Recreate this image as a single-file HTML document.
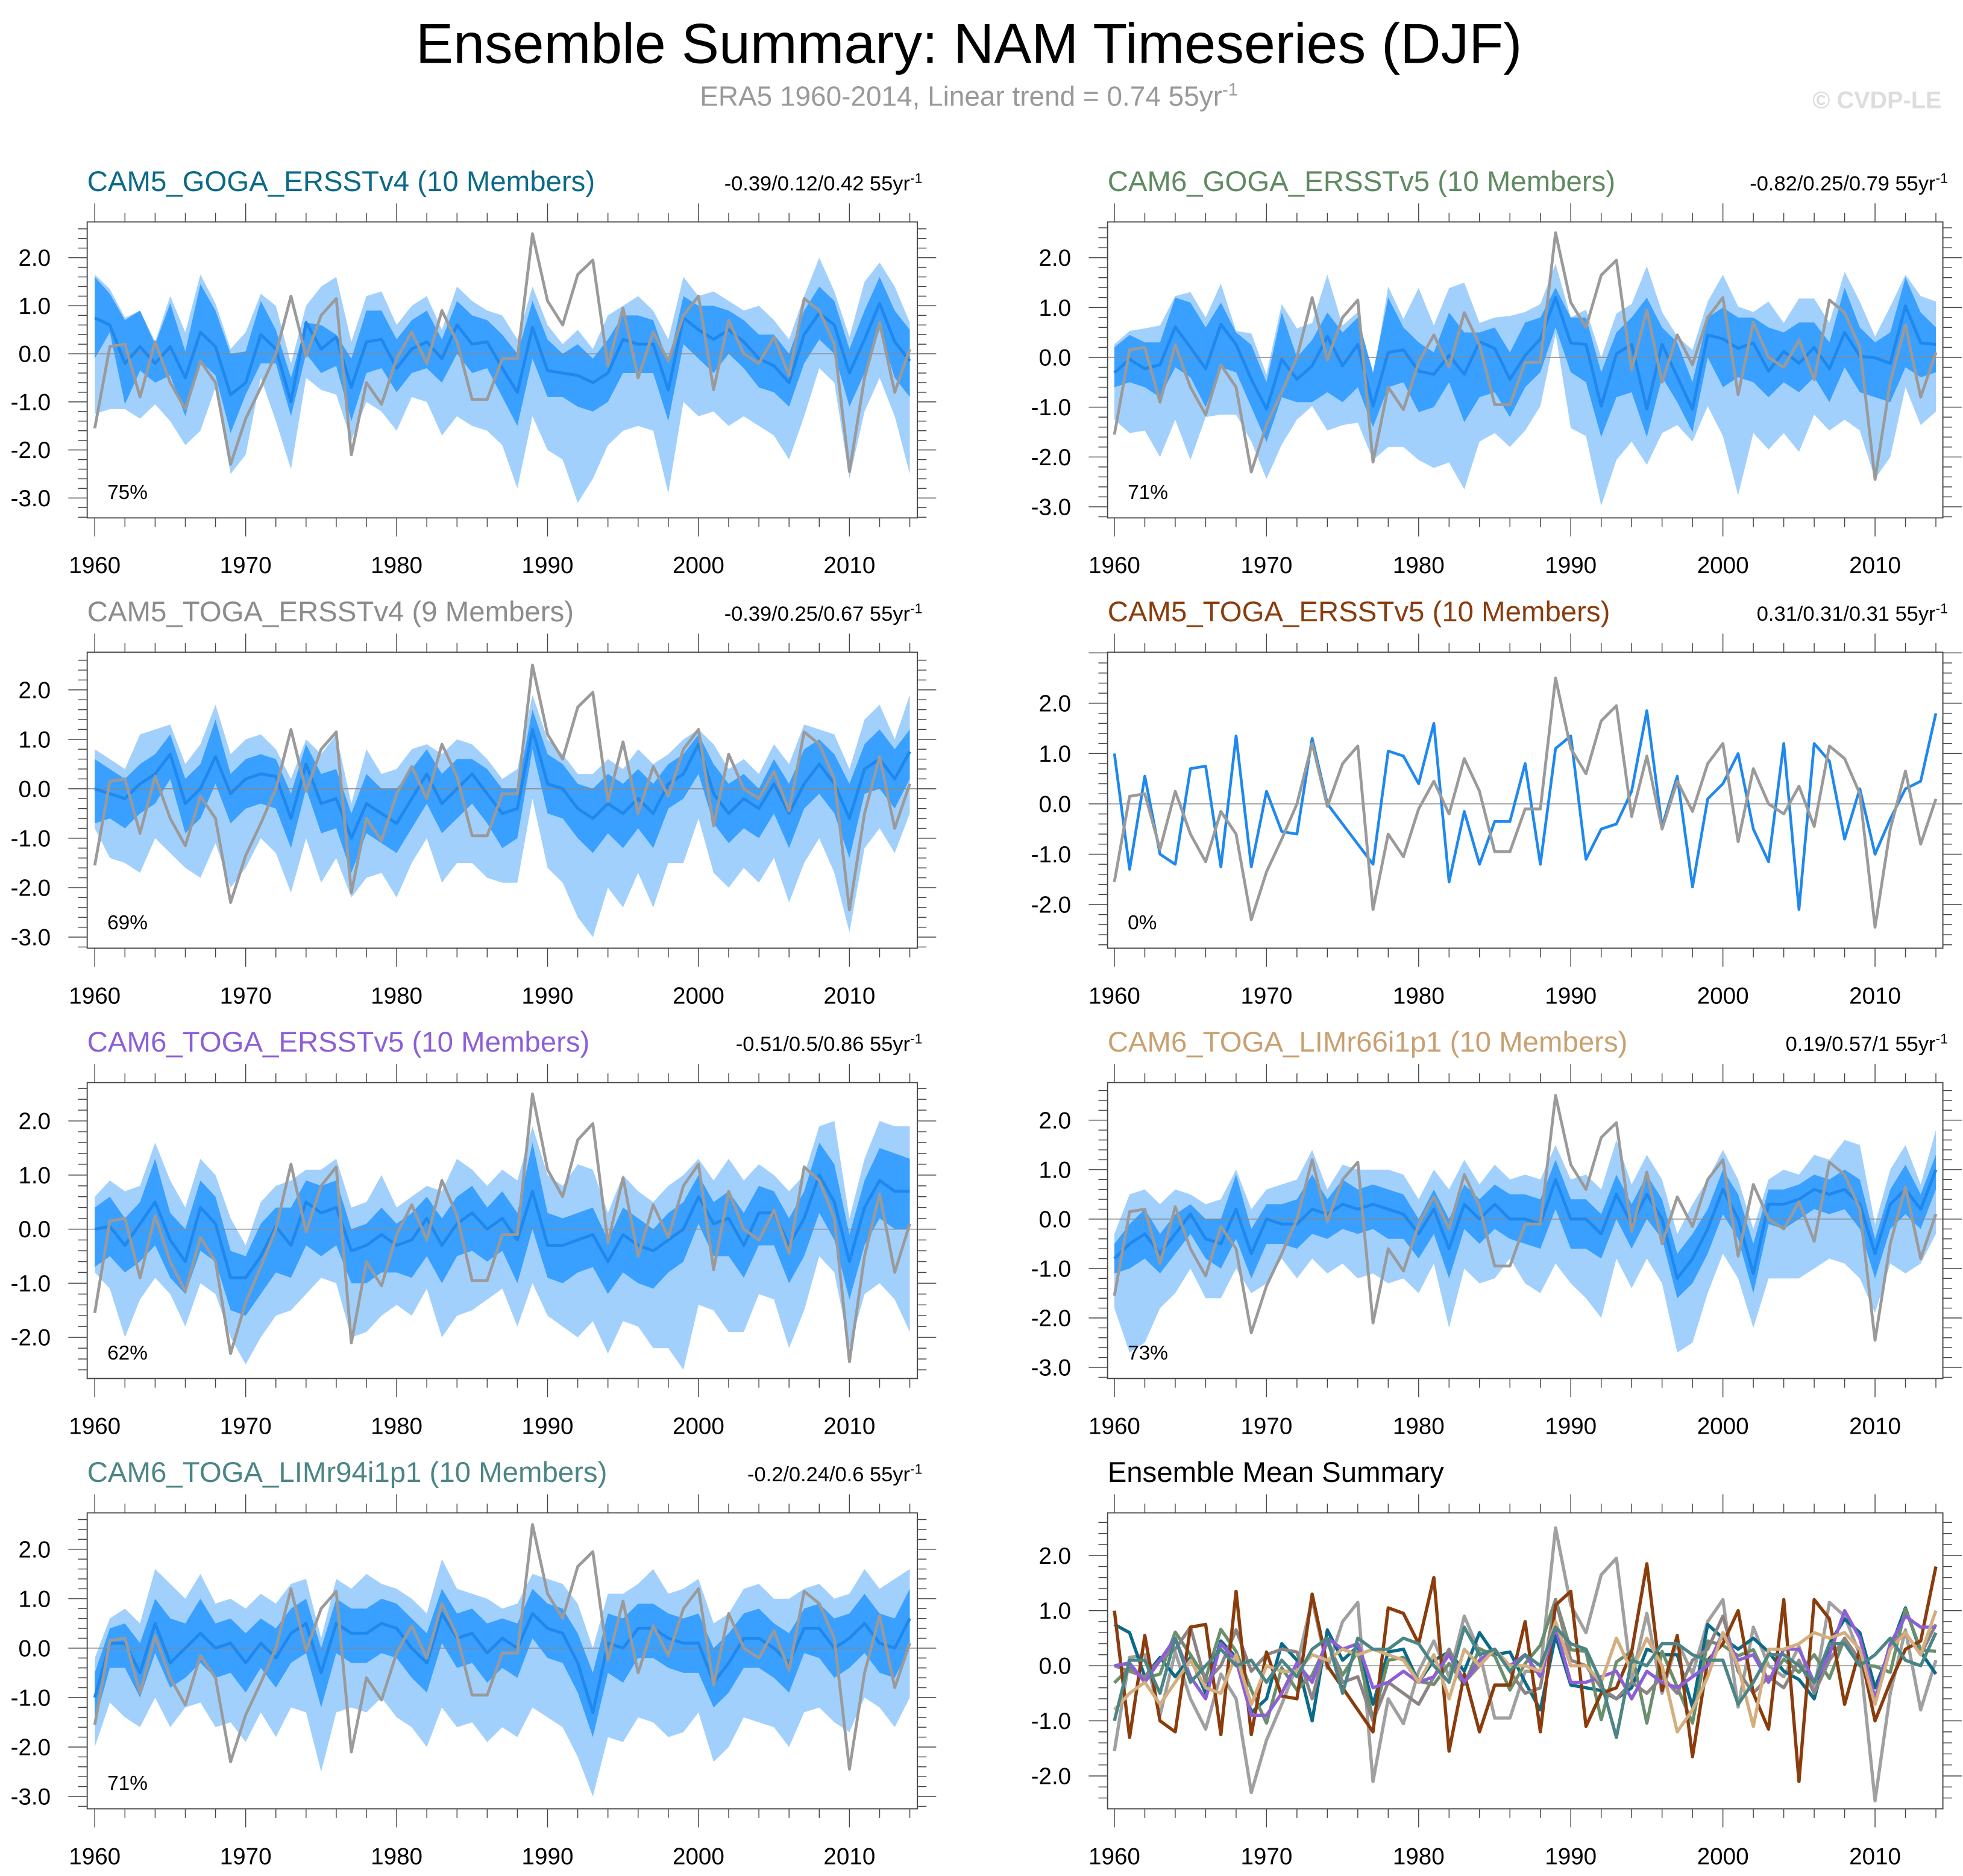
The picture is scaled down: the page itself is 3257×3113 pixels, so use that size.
<!DOCTYPE html>
<html><head><meta charset="utf-8"><style>
html,body{margin:0;padding:0;background:#fff}
svg{display:block}
text{font-family:"Liberation Sans",sans-serif}
</style></head><body>
<svg id="chart" xmlns="http://www.w3.org/2000/svg" width="3257" height="3113" viewBox="0 0 1560 1491">
<text x="770" y="50" text-anchor="middle" font-size="44.7" fill="#000">Ensemble Summary: NAM Timeseries (DJF)</text>
<text x="770" y="84" text-anchor="middle" font-size="22" fill="#999">ERA5 1960-2014, Linear trend = 0.74 55yr<tspan dy="-8" font-size="14">-1</tspan></text>
<text x="1543" y="86" text-anchor="end" font-size="19" font-weight="bold" fill="#ddd">© CVDP-LE</text>
</svg>
<script>
const startYear = 1960;
const era5 = [-1.55,0.15,0.2,-0.9,0.25,-0.6,-1.15,-0.15,-0.6,-2.3,
-1.35,-0.7,0.0,1.2,-0.05,0.8,1.15,-2.1,-0.6,-1.05,
-0.1,0.45,-0.2,0.9,0.25,-0.95,-0.95,-0.1,-0.1,2.5,
1.1,0.6,1.65,1.95,-0.25,0.95,-0.5,0.45,-0.15,0.8,
1.2,-0.75,0.7,0.0,-0.2,0.35,-0.45,1.15,0.9,0.2,
-2.45,-0.5,0.65,-0.8,0.1];

const p1Mean=[0.75,0.6,-0.2,0.15,-0.2,0.15,-0.5,0.45,0.15,-0.85,-0.6,0.4,0.1,-1.0,0.65,0.1,0.35,-0.7,0.25,0.3,-0.3,0.1,0.25,-0.1,0.6,0.2,0.25,-0.3,-0.8,0.55,-0.35,-0.4,-0.45,-0.6,-0.4,0.3,0.2,0.2,-0.75,0.75,0.5,0.3,0.5,0.25,-0.1,-0.25,-0.6,0.4,0.85,0.6,-0.4,0.3,1.05,0.25,-0.15];
const p1Max=[1.65,1.35,0.75,0.9,0.25,1.2,0.45,1.65,1.05,0.1,0.45,1.25,1.0,-0.2,1.0,1.4,1.6,0.25,1.2,1.3,0.6,1.0,1.2,0.5,1.4,1.1,0.9,0.8,0.3,1.4,0.6,0.2,0.5,0.1,0.8,1.0,1.2,0.9,0.3,1.6,1.2,1.3,1.1,0.9,1.0,0.7,0.3,1.2,2.0,1.3,0.35,1.5,1.9,1.4,0.65];
const p1Min=[-1.25,-1.15,-1.15,-1.35,-1.05,-1.4,-1.9,-1.6,-0.7,-2.5,-2.1,-0.5,-1.4,-2.4,-0.5,-0.75,-0.85,-1.8,-1.0,-1.2,-1.6,-0.9,-1.0,-1.7,-1.3,-1.5,-1.6,-1.9,-2.8,-1.3,-2.0,-2.2,-3.1,-2.6,-1.9,-1.6,-1.5,-1.6,-2.9,-1.0,-1.3,-1.2,-1.5,-1.3,-1.5,-1.7,-2.2,-1.3,-0.3,-0.6,-2.6,-1.2,-0.5,-1.3,-2.5];
const p1Q3=[1.6,1.25,0.7,0.9,0.2,1.05,0.05,1.45,0.9,0.0,0.05,1.1,0.5,-0.5,0.65,0.6,0.4,-0.1,0.9,0.9,0.3,0.7,0.9,0.3,1.1,0.8,0.7,0.4,0.0,1.1,0.3,0.0,0.2,-0.1,0.3,0.8,0.8,0.7,-0.2,1.2,1.0,1.0,0.9,0.7,0.4,0.4,0.0,0.9,1.4,1.1,0.1,0.9,1.6,0.9,0.5];
const p1Q1=[-0.1,0.45,-1.05,-0.35,-0.6,-0.45,-1.3,-0.15,-0.45,-1.65,-0.85,-0.2,-0.2,-1.3,0.0,-0.4,-0.25,-1.4,-0.4,-0.3,-0.8,-0.4,-0.3,-0.6,0.0,-0.4,-0.3,-0.9,-1.5,-0.1,-0.9,-0.9,-1.1,-1.2,-1.0,-0.4,-0.4,-0.4,-1.4,0.2,-0.1,-0.4,0.0,-0.3,-0.7,-0.8,-1.1,-0.2,0.3,0.0,-1.1,-0.4,0.5,-0.5,-0.9];

const p2Mean=[-0.31,-0.04,-0.23,-0.15,0.61,0.2,-0.23,0.66,0.26,-0.44,-1.04,-0.04,-0.44,-0.17,0.42,-0.17,0.26,-0.98,0.1,0.15,-0.28,-0.34,0.04,-0.34,0.31,0.18,-0.44,0.04,0.37,1.2,0.29,0.26,-0.98,0.07,0.26,-1.04,0.26,-0.39,-1.04,0.45,0.37,0.18,0.29,-0.28,0.12,-0.12,0.2,-0.23,0.5,0.02,-0.01,-0.12,1.03,0.29,0.26];
const p2Max=[0.26,0.53,0.58,0.64,1.23,1.31,0.8,1.48,0.53,0.48,-0.34,1.07,0.58,0.69,1.66,0.64,0.91,-0.44,1.42,0.77,1.39,0.64,1.39,1.5,0.69,0.8,0.83,0.91,1.07,1.88,0.8,0.96,0.0,0.88,1.07,1.83,0.91,0.42,0.15,1.12,1.66,1.02,0.91,1.12,0.69,1.18,1.18,0.69,1.72,1.12,0.42,1.02,1.66,1.23,1.12];
const p2Min=[-1.25,-1.52,-1.47,-2.0,-1.25,-2.06,-1.2,-1.15,-1.15,-1.69,-2.44,-1.75,-1.25,-0.98,-1.47,-1.36,-1.31,-2.06,-1.8,-1.8,-2.06,-2.22,-2.11,-2.65,-1.69,-1.52,-1.8,-1.47,-0.98,0.48,-1.42,-1.58,-2.98,-2.06,-1.69,-2.16,-1.52,-1.36,-1.69,-0.98,-1.58,-2.77,-1.52,-1.85,-1.52,-1.9,-1.15,-1.47,-1.25,-1.47,-2.44,-2.0,-0.6,-1.36,-1.09];
const p2Q3=[0.2,0.45,0.3,0.3,1.2,1.1,0.6,1.1,0.5,0.25,-0.5,0.9,0.0,0.35,0.9,0.5,0.8,-0.3,1.2,0.6,0.3,0.1,0.9,0.5,0.5,0.6,0.1,0.7,0.8,1.4,0.8,0.8,-0.3,0.5,0.8,1.2,0.6,0.3,-0.5,0.8,1.0,0.8,0.8,0.6,0.5,0.7,0.7,0.3,1.4,0.6,0.3,0.5,1.6,0.9,0.6];
const p2Q1=[-0.6,-0.5,-0.6,-0.8,-0.2,-0.4,-1.0,-0.2,-0.3,-1.0,-1.7,-0.8,-0.9,-0.9,-0.7,-0.9,-0.6,-1.4,-0.6,-0.5,-1.1,-1.0,-0.5,-1.3,-0.8,-0.7,-1.2,-0.6,-0.3,0.6,-0.3,-0.5,-1.6,-0.8,-0.7,-1.6,-0.4,-0.9,-1.5,0.0,-0.6,-0.4,-0.5,-0.8,-0.5,-0.7,-0.4,-0.9,-0.2,-0.7,-0.8,-0.9,-0.2,-0.4,-0.3];

const p3Mean=[0.0,-0.1,-0.2,0.1,0.3,0.7,-0.3,0.0,0.65,-0.1,0.2,0.3,0.25,-0.6,0.5,-0.3,-0.2,-1.0,-0.3,-0.5,-0.7,-0.2,0.3,-0.3,0.0,0.3,-0.1,-0.5,-0.4,1.2,0.1,0.0,-0.4,-0.6,-0.3,-0.5,-0.2,-0.5,0.1,0.3,0.9,-0.1,-0.5,-0.2,-0.4,0.1,-0.5,0.1,0.5,0.1,-0.6,0.4,0.6,0.2,0.75];
const p3Max=[0.8,0.6,0.4,1.1,1.2,1.3,0.5,0.9,1.7,0.7,1.0,1.1,0.8,0.2,1.0,0.7,1.1,-0.3,0.8,0.3,0.4,0.8,0.9,0.7,1.0,0.9,0.6,0.2,0.4,1.9,1.0,0.7,0.3,0.3,0.6,0.4,0.8,0.5,0.7,1.0,1.2,0.9,0.4,0.6,0.3,0.9,0.5,1.3,1.2,1.1,0.4,1.4,1.7,1.0,1.9];
const p3Min=[-0.8,-1.4,-1.5,-1.7,-1.0,-1.3,-1.6,-1.8,-1.1,-2.0,-1.6,-1.0,-1.3,-2.1,-1.0,-1.9,-1.4,-2.2,-1.8,-1.7,-2.2,-1.5,-1.0,-1.9,-1.5,-1.5,-1.8,-1.9,-1.9,-0.2,-1.6,-1.9,-2.6,-3.0,-2.0,-2.4,-1.7,-2.4,-1.5,-1.5,-0.6,-1.7,-2.0,-1.6,-1.9,-1.4,-2.3,-1.5,-1.0,-1.7,-2.9,-1.2,-0.8,-1.3,-0.5];
const p3Q3=[0.6,0.4,0.2,0.5,0.7,1.1,0.2,0.5,1.4,0.3,0.6,0.7,0.6,-0.1,0.9,0.3,0.4,-0.5,0.3,0.0,0.0,0.4,0.8,0.3,0.6,0.6,0.4,0.0,0.0,1.6,0.7,0.5,0.1,0.0,0.3,0.1,0.4,0.1,0.5,0.7,1.1,0.5,0.1,0.3,0.0,0.6,0.1,0.8,1.0,0.7,0.1,0.9,1.2,0.8,1.2];
const p3Q1=[-0.7,-0.6,-0.8,-0.5,-0.3,0.2,-0.9,-0.6,0.1,-0.7,-0.4,-0.3,-0.4,-1.2,0.0,-0.9,-0.8,-1.7,-0.9,-1.1,-1.3,-0.8,-0.3,-0.9,-0.6,-0.3,-0.7,-1.2,-1.0,0.8,-0.5,-0.6,-1.0,-1.3,-0.9,-1.2,-0.8,-1.2,-0.4,-0.2,0.3,-0.7,-1.1,-0.8,-1.0,-0.5,-1.2,-0.4,-0.1,-0.5,-1.4,-0.1,0.0,-0.4,0.2];

const p4Member=[1.0,-1.3,0.55,-1.0,-1.2,0.7,0.75,-1.25,1.35,-1.25,0.25,-0.55,-0.6,1.3,0.0,-0.4,-0.8,-1.2,1.05,0.95,0.4,1.6,-1.55,-0.15,-1.2,-0.35,-0.35,0.8,-1.2,1.1,1.35,-1.1,-0.5,-0.4,0.25,1.85,-0.45,0.55,-1.65,0.1,0.4,1.0,-0.5,-1.15,1.2,-2.1,1.2,0.85,-0.7,0.3,-1.0,-0.3,0.3,0.45,1.8];

const p5Mean=[0.0,0.05,-0.3,0.1,0.5,-0.2,-0.6,0.4,0.1,-0.9,-0.9,-0.5,0.05,-0.3,0.5,0.3,0.4,-0.4,-0.3,-0.1,-0.3,-0.2,0.2,-0.3,0.1,0.3,0.0,0.2,-0.2,0.7,-0.3,-0.3,-0.2,-0.1,-0.6,-0.1,-0.3,-0.4,-0.2,0.0,0.6,0.1,0.2,-0.3,0.3,0.3,-0.3,0.2,1.0,0.5,-0.6,0.4,0.9,0.7,0.7];
const p5Max=[0.6,0.9,0.7,0.8,1.6,0.9,0.4,1.3,1.0,0.2,-0.3,0.5,0.8,0.9,1.1,1.1,1.3,0.4,0.5,1.0,0.4,0.6,0.8,0.7,1.3,1.1,0.8,1.1,0.9,1.9,1.0,0.8,1.2,1.1,0.3,1.0,0.7,0.5,0.8,1.0,1.3,0.9,1.3,0.9,1.2,1.0,0.7,1.0,1.9,2.0,0.2,1.3,2.0,1.9,1.9];
const p5Min=[-0.8,-1.1,-2.0,-1.3,-0.9,-1.2,-1.8,-1.0,-1.2,-2.0,-2.5,-2.0,-1.6,-1.5,-1.2,-0.9,-1.0,-2.0,-1.9,-1.6,-1.4,-1.6,-1.1,-2.0,-1.6,-1.5,-1.3,-1.1,-1.8,-1.0,-1.6,-1.8,-2.0,-1.7,-2.3,-1.7,-1.8,-2.2,-2.2,-2.6,-1.4,-1.5,-1.9,-1.9,-1.2,-1.3,-2.2,-1.5,-0.5,-0.8,-2.2,-1.2,-1.0,-1.3,-1.9];
const p5Q3=[0.4,0.6,0.2,0.5,1.3,0.3,0.0,0.9,0.6,-0.4,-0.5,0.1,0.4,0.4,0.9,0.8,0.9,0.0,0.1,0.4,0.1,0.3,0.6,0.2,0.6,0.8,0.4,0.7,0.3,1.6,0.3,0.2,0.3,0.4,-0.2,0.4,0.2,0.0,0.3,0.5,1.0,0.5,0.7,0.3,0.8,0.7,0.2,0.7,1.6,1.2,-0.1,0.9,1.5,1.4,1.3];
const p5Q1=[-0.7,-0.5,-0.8,-0.6,-0.3,-0.9,-1.2,-0.4,-0.6,-1.5,-1.6,-1.2,-0.8,-0.9,-0.3,-0.5,-0.3,-1.0,-1.0,-0.8,-0.8,-0.9,-0.5,-1.0,-0.5,-0.4,-0.6,-0.4,-1.0,0.0,-0.9,-1.0,-0.8,-0.7,-1.2,-0.8,-1.0,-1.1,-0.8,-0.6,0.1,-0.5,-0.5,-0.9,-0.3,-0.3,-1.0,-0.5,0.3,-0.2,-1.3,-0.3,0.2,0.0,0.0];

const p6Mean=[-0.8,-0.5,-0.3,-0.7,-0.3,0.1,-0.4,-0.5,0.2,-0.7,0.0,-0.1,-0.1,0.2,0.1,0.3,0.2,0.3,0.2,0.1,-0.3,0.2,-0.6,0.3,0.0,0.3,0.0,0.0,-0.1,0.8,0.0,0.0,-0.3,0.5,-0.1,0.5,0.0,-1.2,-0.8,-0.2,0.6,0.0,-1.1,0.3,0.3,0.4,0.6,0.5,0.6,0.3,-0.7,0.3,0.6,0.2,1.0];
const p6Max=[-0.3,0.5,0.6,0.3,0.6,0.5,0.3,0.4,1.0,0.2,0.6,0.7,0.8,1.4,0.6,1.1,1.0,1.0,1.0,0.9,0.4,1.0,0.6,1.2,0.7,1.1,0.8,0.9,0.8,1.5,0.8,0.9,0.6,1.6,0.7,1.3,0.8,-0.3,0.3,0.8,1.4,0.8,-0.2,0.8,1.0,0.9,1.3,1.2,1.6,1.5,-0.1,1.0,1.5,0.7,1.8];
const p6Min=[-1.8,-2.7,-2.5,-1.8,-1.5,-1.0,-1.6,-1.6,-1.0,-1.5,-1.3,-0.8,-1.2,-0.8,-1.1,-0.9,-1.2,-1.1,-1.3,-1.2,-1.5,-0.9,-2.2,-1.0,-1.3,-1.2,-0.8,-1.3,-1.5,-0.9,-1.3,-1.6,-2.0,-0.8,-1.4,-0.8,-1.3,-2.7,-2.5,-1.5,-0.7,-1.2,-2.2,-1.2,-1.2,-1.2,-1.0,-0.8,-0.9,-1.2,-1.9,-0.9,-1.1,-0.9,-0.3];
const p6Q3=[-0.5,-0.1,0.2,-0.3,0.1,0.3,0.0,0.0,0.9,-0.2,0.3,0.3,0.4,0.9,0.4,0.8,0.6,0.7,0.6,0.5,0.0,0.6,0.0,0.7,0.4,0.7,0.5,0.5,0.4,1.2,0.4,0.4,0.1,0.9,0.3,0.9,0.4,-0.7,-0.3,0.2,1.0,0.5,-0.5,0.6,0.6,0.7,0.9,0.8,1.0,0.8,-0.4,0.6,1.1,0.5,1.3];
const p6Q1=[-1.1,-1.0,-0.8,-1.1,-0.7,-0.3,-0.8,-1.0,-0.4,-1.2,-0.5,-0.5,-0.6,-0.3,-0.4,-0.2,-0.3,-0.2,-0.4,-0.4,-0.8,-0.3,-1.2,-0.2,-0.5,-0.2,-0.4,-0.5,-0.6,0.2,-0.6,-0.6,-0.8,0.0,-0.6,0.0,-0.4,-1.6,-1.3,-0.7,0.1,-0.4,-1.5,-0.1,-0.2,0.0,0.2,0.1,0.2,-0.2,-1.2,-0.2,0.1,-0.2,0.6];

const p7Mean=[-1.0,0.1,0.1,-0.5,0.5,-0.3,0.0,0.3,0.0,0.1,-0.3,0.1,-0.2,0.3,0.5,-0.5,0.5,0.3,0.3,0.5,0.4,0.0,-0.3,0.7,0.2,0.3,-0.1,0.2,0.0,0.7,0.4,0.3,-0.3,-1.3,0.1,0.0,0.4,0.4,0.2,0.1,0.1,-0.7,-0.3,0.2,0.2,0.0,-0.3,0.4,0.4,0.0,0.2,0.5,0.1,0.0,0.6];
const p7Max=[-0.2,0.6,0.8,0.5,1.6,1.3,1.0,1.5,0.9,1.0,0.8,1.1,0.9,1.3,1.4,0.2,1.4,1.2,1.5,1.3,1.2,1.0,0.7,1.8,1.2,1.1,1.0,0.8,0.9,1.5,1.4,1.3,0.9,0.0,1.1,1.1,1.3,1.6,1.1,1.2,1.4,0.5,0.7,1.2,1.3,1.0,1.0,1.2,1.3,1.0,1.1,1.6,1.2,1.4,1.6];
const p7Min=[-2.0,-1.1,-1.4,-1.6,-1.0,-1.6,-1.2,-1.1,-1.6,-1.5,-1.9,-1.3,-1.8,-1.2,-1.3,-2.5,-1.3,-1.2,-1.3,-1.0,-1.4,-1.6,-2.0,-1.2,-1.6,-1.5,-1.9,-1.6,-1.8,-1.2,-1.4,-1.6,-2.2,-3.0,-1.8,-1.9,-1.4,-1.5,-1.8,-1.7,-1.3,-2.3,-2.0,-1.4,-1.5,-1.6,-2.0,-1.3,-1.2,-1.5,-1.7,-1.0,-1.2,-1.6,-1.0];
const p7Q3=[-0.5,0.4,0.5,0.1,1.0,0.6,0.5,1.0,0.5,0.6,0.3,0.6,0.4,0.8,1.0,0.0,1.0,0.8,0.8,1.0,0.9,0.6,0.3,1.2,0.7,0.8,0.5,0.6,0.5,1.2,0.9,0.8,0.3,-0.5,0.7,0.6,0.9,0.9,0.7,0.6,0.7,0.0,0.3,0.7,0.8,0.5,0.3,0.8,0.9,0.6,0.7,1.1,0.7,0.6,1.2];
const p7Q1=[-1.5,-0.4,-0.4,-1.0,-0.1,-0.8,-0.6,-0.3,-0.6,-0.5,-0.9,-0.4,-0.8,-0.3,-0.1,-1.2,-0.1,-0.3,-0.3,-0.1,-0.2,-0.6,-0.9,0.1,-0.4,-0.3,-0.7,-0.4,-0.6,0.2,-0.2,-0.3,-0.9,-1.8,-0.5,-0.7,-0.2,-0.2,-0.4,-0.5,-0.5,-1.2,-0.9,-0.4,-0.4,-0.6,-0.9,-0.1,-0.2,-0.6,-0.4,-0.1,-0.5,-0.6,0.0];

const xTickLabels=["1960","1970","1980","1990","2000","2010"];
const panelTitles=["CAM5_GOGA_ERSSTv4 (10 Members)","CAM6_GOGA_ERSSTv5 (10 Members)","CAM5_TOGA_ERSSTv4 (9 Members)","CAM5_TOGA_ERSSTv5 (10 Members)","CAM6_TOGA_ERSSTv5 (10 Members)","CAM6_TOGA_LIMr66i1p1 (10 Members)","CAM6_TOGA_LIMr94i1p1 (10 Members)","Ensemble Mean Summary"];
const trendStats=["-0.39/0.12/0.42","-0.82/0.25/0.79","-0.39/0.25/0.67","0.31/0.31/0.31","-0.51/0.5/0.86","0.19/0.57/1","-0.2/0.24/0.6",""];
const pctLabels=["75%","71%","69%","0%","62%","73%","71%",""];

const NS="http://www.w3.org/2000/svg";
const svg=document.getElementById('chart');
function mk(tag,attrs,parent){const e=document.createElementNS(NS,tag);for(const k in attrs)e.setAttribute(k,attrs[k]);(parent||svg).appendChild(e);return e;}

const colors=["#0b6a88","#5f8a62","#8c8c8c","#8a3c0c","#8c5fd8","#c9a071","#4b8585","#000"];
const summaryColors=["#0b6a88","#6a8f6c","#8c8484","#8a3c0c","#8c5fd8","#d4ae7e","#4b8585"];
const rowTops=[176.4,518.4,860.4,1202.4];
const H=235.2;
const L={x0:69.3,x1:729,yr0:75.3,step:11.995};
const R={x0:880.2,x1:1544,yr0:885.6,step:12.09};
const panels=[
 {col:L,row:0,zo:104.8,unit:38.2,ticks:[2,1,0,-1,-2,-3],mean:p1Mean,mx:p1Max,mn:p1Min,q3:p1Q3,q1:p1Q1},
 {col:R,row:0,zo:107.6,unit:39.6,ticks:[2,1,0,-1,-2,-3],mean:p2Mean,mx:p2Max,mn:p2Min,q3:p2Q3,q1:p2Q1},
 {col:L,row:1,zo:108.5,unit:39.3,ticks:[2,1,0,-1,-2,-3],mean:p3Mean,mx:p3Max,mn:p3Min,q3:p3Q3,q1:p3Q1},
 {col:R,row:1,zo:120.5,unit:40,ticks:[2,1,0,-1,-2],mean:p4Member},
 {col:L,row:2,zo:116.5,unit:43,ticks:[2,1,0,-1,-2],mean:p5Mean,mx:p5Max,mn:p5Min,q3:p5Q3,q1:p5Q1},
 {col:R,row:2,zo:108.5,unit:39.3,ticks:[2,1,0,-1,-2,-3],mean:p6Mean,mx:p6Max,mn:p6Min,q3:p6Q3,q1:p6Q1},
 {col:L,row:3,zo:107.5,unit:39.3,ticks:[2,1,0,-1,-2,-3],mean:p7Mean,mx:p7Max,mn:p7Min,q3:p7Q3,q1:p7Q1},
 {col:R,row:3,zo:121.5,unit:43.8,ticks:[2,1,0,-1,-2],summary:true}
];
const summarySeries=[p1Mean,p2Mean,p3Mean,p4Member,p5Mean,p6Mean,p7Mean];

panels.forEach((p,i)=>{
 const c=p.col, top=rowTops[p.row], bot=top+H;
 const g=mk('g',{});
 
 
 const xs=k=>c.yr0+k*c.step;
 const ys=v=>top+p.zo-v*p.unit;
 const t=mk('text',{x:c.x0,y:top-24.6,'font-size':22.7,fill:colors[i]},g);
 t.textContent=panelTitles[i];
 
 
 if(trendStats[i]){
  const s=mk('text',{x:c.x1+4,y:top-25,'text-anchor':'end','font-size':16.5,fill:'#000'},g);
  s.innerHTML=trendStats[i]+' 55yr<tspan dy="-6" font-size="11">-1</tspan>';
  
  
 }
 const n=era5.length;
 function poly(hi,lo,fill,name){
  let pts=[];for(let k=0;k<n;k++)pts.push(xs(k)+','+ys(hi[k]));
  for(let k=n-1;k>=0;k--)pts.push(xs(k)+','+ys(lo[k]));
  const e=mk('polygon',{points:pts.join(' '),fill:fill},g);
  
  
 }
 function line(arr,stroke,w,name){
  const pts=arr.map((v,k)=>xs(k)+','+ys(v)).join(' ');
  const e=mk('polyline',{points:pts,fill:'none',stroke:stroke,'stroke-width':w,'stroke-linejoin':'round'},g);
  
  
 }
 if(p.mx){poly(p.mx,p.mn,'#a2d0fd','minmax-band');poly(p.q3,p.q1,'#3aa0ff','interquartile-band');}
 const z=mk('line',{x1:c.x0,x2:c.x1,y1:ys(0),y2:ys(0),stroke:'#888','stroke-width':0.7},g);
 
 
 if(p.summary){
  line(era5,'#a0a0a0',2.6,'era5-line');
  summarySeries.forEach((s,j)=>line(s,summaryColors[j],2.6,'ensemble-mean-line-'+(j+1)));
 } else {
  if(p.mx) line(p.mean,'#1f88ee',2.4,'ensemble-mean-line'); else line(p.mean,'#1f88ee',2.2,'member-line');
  line(era5,'#9a9a9a',2.3,'era5-line');
 }
 const fr=mk('rect',{x:c.x0,y:top,width:c.x1-c.x0,height:H,fill:'none',stroke:'#444','stroke-width':0.9},g);
 
 
 for(let k=0;k<n;k+=2){
  const major=(k%10===0), len=major?14.8:7.3;
  mk('line',{x1:xs(k),x2:xs(k),y1:top,y2:top-len,stroke:'#444','stroke-width':0.7},g);
  mk('line',{x1:xs(k),x2:xs(k),y1:bot,y2:bot+len,stroke:'#444','stroke-width':0.7},g);
 }
 xTickLabels.forEach((lab,j)=>{
  const e=mk('text',{x:xs(j*10),y:bot+44,'text-anchor':'middle','font-size':18.5,fill:'#000'},g);
  e.textContent=lab;
  
  
 });
 const vTop=p.zo/p.unit, vBot=(p.zo-H)/p.unit;
 for(let m=Math.ceil(vBot/0.2-1e-6);m<=Math.floor(vTop/0.2+1e-6);m++){
  const v=m*0.2, major=(Math.abs(m%5)===0), len=major?15:7.3;
  mk('line',{x1:c.x0,x2:c.x0-len,y1:ys(v),y2:ys(v),stroke:'#444','stroke-width':0.7},g);
  mk('line',{x1:c.x1,x2:c.x1+len,y1:ys(v),y2:ys(v),stroke:'#444','stroke-width':0.7},g);
 }
 p.ticks.forEach(v=>{
  const e=mk('text',{x:c.x0-29,y:ys(v)+6.5,'text-anchor':'end','font-size':18.5,fill:'#000'},g);
  e.textContent=v.toFixed(1);
  
  
 });
 if(pctLabels[i]){
  const e=mk('text',{x:c.x0+16,y:bot-15,'font-size':16,fill:'#000'},g);
  e.textContent=pctLabels[i];
  
  
 }
});
</script>
</body></html>
